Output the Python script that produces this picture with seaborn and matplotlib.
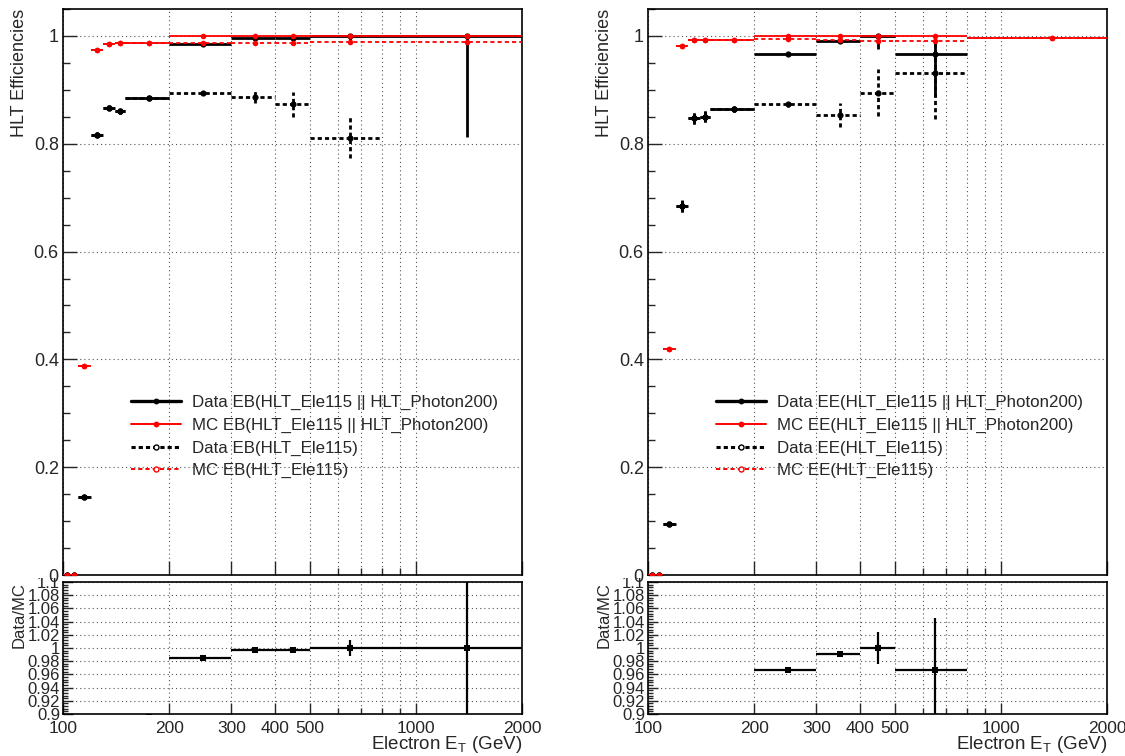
import numpy as np
import matplotlib
matplotlib.use("Agg")
import matplotlib.pyplot as plt
import matplotlib.ticker as mticker
import matplotlib.transforms as mtransforms
from matplotlib.lines import Line2D
import seaborn as sns

# ---------------------------------------------------------------------------
# Binning in electron E_T (GeV)
# ---------------------------------------------------------------------------
bin_edges = np.array([100, 105, 110, 120, 130, 140, 150, 200, 300, 400, 500, 800, 2000], dtype=float)

# ---------------------------------------------------------------------------
# Barrel (EB) efficiencies
# ---------------------------------------------------------------------------
eb_data_or = [0.0, 0.0, 0.145, 0.817, 0.867, 0.860, 0.884, 0.9845, 0.996, 0.996, 1.0, 1.0]
eb_data_or_lo = [0.0, 0.0, 0.004, 0.005, 0.005, 0.005, 0.003, 0.002, 0.003, 0.004, 0.012, 0.188]
eb_data_or_hi = [0.002, 0.002, 0.004, 0.005, 0.005, 0.005, 0.003, 0.002, 0.002, 0.003, 0.0, 0.0]

eb_mc_or = [0.0, 0.0, 0.387, 0.974, 0.9845, 0.987, 0.9876, 0.9995, 0.9995, 0.9995, 0.9995, 0.9995]
eb_mc_or_err = [0.001, 0.001, 0.003, 0.002, 0.002, 0.002, 0.001, 0.001, 0.001, 0.001, 0.001, 0.001]

eb_data_ele = [0.0, 0.0, 0.145, 0.817, 0.867, 0.860, 0.884, 0.894, 0.887, 0.873, 0.811, np.nan]
eb_data_ele_lo = [0.0, 0.0, 0.004, 0.005, 0.005, 0.005, 0.003, 0.004, 0.011, 0.0235, 0.038, 0.0]
eb_data_ele_hi = [0.002, 0.002, 0.004, 0.005, 0.005, 0.005, 0.003, 0.004, 0.011, 0.0235, 0.038, 0.0]

eb_mc_ele = [0.0, 0.0, 0.387, 0.974, 0.9845, 0.987, 0.9876, 0.9863, 0.987, 0.987, 0.988, 0.988]
eb_mc_ele_err = [0.001, 0.001, 0.003, 0.002, 0.002, 0.002, 0.001, 0.001, 0.003, 0.004, 0.004, 0.003]

# ---------------------------------------------------------------------------
# Endcap (EE) efficiencies
# ---------------------------------------------------------------------------
ee_data_or = [0.0, 0.0, 0.095, 0.684, 0.847, 0.850, 0.864, 0.966, 0.991, 1.0, 0.966, np.nan]
ee_data_or_lo = [0.0, 0.0, 0.004, 0.011, 0.010, 0.010, 0.006, 0.002, 0.005, 0.025, 0.080, 0.0]
ee_data_or_hi = [0.002, 0.002, 0.004, 0.011, 0.010, 0.010, 0.006, 0.002, 0.005, 0.0, 0.034, 0.0]

ee_mc_or = [0.0, 0.0, 0.420, 0.981, 0.992, 0.992, 0.993, 0.999, 1.0, 1.0, 1.0, 0.997]
ee_mc_or_err = [0.001, 0.001, 0.003, 0.002, 0.001, 0.001, 0.001, 0.001, 0.001, 0.001, 0.001, 0.003]

ee_data_ele = [0.0, 0.0, 0.095, 0.684, 0.847, 0.850, 0.864, 0.873, 0.853, 0.895, 0.931, np.nan]
ee_data_ele_lo = [0.0, 0.0, 0.004, 0.011, 0.010, 0.010, 0.006, 0.005, 0.0225, 0.044, 0.085, 0.0]
ee_data_ele_hi = [0.002, 0.002, 0.004, 0.011, 0.010, 0.010, 0.006, 0.005, 0.0225, 0.044, 0.060, 0.0]

ee_mc_ele = [0.0, 0.0, 0.420, 0.981, 0.992, 0.992, 0.993, 0.994, 0.992, 0.991, 0.991, 0.996]
ee_mc_ele_err = [0.001, 0.001, 0.003, 0.002, 0.001, 0.001, 0.001, 0.001, 0.003, 0.004, 0.004, 0.003]

# Axis ticks
x_tick_values = [100, 200, 300, 400, 500, 1000, 2000]
x_minor_values = [600, 700, 800, 900]
eff_tick_values = [0, 0.2, 0.4, 0.6, 0.8, 1.0]
eff_tick_labels = ["0", "0.2", "0.4", "0.6", "0.8", "1"]
ratio_tick_values = [0.9, 0.92, 0.94, 0.96, 0.98, 1.0, 1.02, 1.04, 1.06, 1.08, 1.1]
ratio_tick_labels = ["0.9", "0.92", "0.94", "0.96", "0.98", "1", "1.02", "1.04", "1.06", "1.08", "1.1"]

# ---------------------------------------------------------------------------
# Style
# ---------------------------------------------------------------------------
sns.set_style("ticks")
plt.rcParams["font.family"] = ["Liberation Sans", "DejaVu Sans"]
plt.rcParams["mathtext.fontset"] = "custom"
plt.rcParams["mathtext.rm"] = "Liberation Sans"
plt.rcParams["axes.linewidth"] = 1.2
plt.rcParams["axes.edgecolor"] = "black"
plt.rcParams["lines.scale_dashes"] = False

RED = "#ff0000"
BLACK = "#000000"
DASH = (0, (3.0, 2.2))
GRID_KW = dict(color="#555555", linestyle=(0, (0.8, 2.2)), linewidth=0.8)

centers = 0.5 * (bin_edges[:-1] + bin_edges[1:])
xerr_lo = centers - bin_edges[:-1]
xerr_hi = bin_edges[1:] - centers

W, H = 1125, 756
fig = plt.figure(figsize=(W / 100, H / 100), dpi=100)


def frac_box(x0, y0, x1, y1):
    return [x0 / W, 1 - y1 / H, (x1 - x0) / W, (y1 - y0) / H]


def draw_series(ax, eff, lo, hi, color, lw, dashed, z, msize):
    eff = np.asarray(eff, dtype=float)
    lo = np.asarray(lo, dtype=float)
    hi = np.asarray(hi, dtype=float)
    m = ~np.isnan(eff)
    eb = ax.errorbar(centers[m], eff[m],
                     xerr=[xerr_lo[m], xerr_hi[m]],
                     yerr=[lo[m], hi[m]],
                     fmt="none", ecolor=color, elinewidth=lw, capsize=0,
                     zorder=z)
    if dashed:
        for lc in eb.lines[2]:
            lc.set_linestyle(DASH)
    sns.scatterplot(x=centers[m], y=eff[m], ax=ax, color=color, s=msize,
                    marker="o", linewidth=0, zorder=z + 0.1, legend=False)


def style_x(ax, labels):
    ax.set_xscale("log")
    ax.set_xlim(100, 2000)
    ax.xaxis.set_major_locator(mticker.FixedLocator(x_tick_values))
    ax.xaxis.set_minor_locator(mticker.FixedLocator(x_minor_values))
    if labels:
        ax.xaxis.set_major_formatter(mticker.FixedFormatter([str(v) for v in x_tick_values]))
    else:
        ax.xaxis.set_major_formatter(mticker.NullFormatter())
    ax.xaxis.set_minor_formatter(mticker.NullFormatter())
    ax.grid(True, axis="x", which="both", **GRID_KW)


def draw_panel(x0, x1, region, d_or, d_or_lo, d_or_hi, m_or, m_or_err,
               d_ele, d_ele_lo, d_ele_hi, m_ele, m_ele_err):
    ax_r = fig.add_axes(frac_box(x0, 582, x1, 714))
    ax = fig.add_axes(frac_box(x0, 9, x1, 575))

    # --- efficiency panel ---
    draw_series(ax, d_or, d_or_lo, d_or_hi, BLACK, 2.0, False, 3, 20)
    draw_series(ax, m_or, m_or_err, m_or_err, RED, 1.3, False, 4, 16)
    draw_series(ax, d_ele, d_ele_lo, d_ele_hi, BLACK, 2.0, True, 5, 20)
    draw_series(ax, m_ele, m_ele_err, m_ele_err, RED, 1.3, True, 6, 16)

    style_x(ax, labels=False)
    ax.set_ylim(0, 1.05)
    ax.yaxis.set_major_locator(mticker.FixedLocator(eff_tick_values))
    ax.yaxis.set_major_formatter(mticker.FixedFormatter(eff_tick_labels))
    ax.yaxis.set_minor_locator(mticker.MultipleLocator(0.05))
    ax.grid(True, axis="y", which="major", **GRID_KW)
    ax.tick_params(axis="both", which="both", direction="in", top=False, right=False,
                   labelsize=13, width=1.0, pad=3)
    ax.tick_params(axis="both", which="major", length=10)
    ax.tick_params(axis="both", which="minor", length=5)
    ax.set_xlabel("")
    ax.set_ylabel("HLT Efficiencies", fontsize=13, loc="top")
    ax.yaxis.set_label_coords(-0.077, 1.0)
    ax.set_axisbelow(True)
    ax.patch.set_facecolor("white")

    handles = [
        Line2D([], [], color=BLACK, lw=2.4, marker="o", ms=3.2, mfc=BLACK, mec=BLACK),
        Line2D([], [], color=RED, lw=1.4, marker="o", ms=3.2, mfc=RED, mec=RED),
        Line2D([], [], color=BLACK, lw=2.2, ls=DASH, marker="o", ms=3.6, mfc="white", mec=BLACK, mew=1.0),
        Line2D([], [], color=RED, lw=1.4, ls=DASH, marker="o", ms=3.6, mfc="white", mec=RED, mew=1.0),
    ]
    labels = [
        f"Data {region}(HLT_Ele115 || HLT_Photon200)",
        f"MC {region}(HLT_Ele115 || HLT_Photon200)",
        f"Data {region}(HLT_Ele115)",
        f"MC {region}(HLT_Ele115)",
    ]
    ax.legend(handles, labels, loc="upper left", bbox_to_anchor=(0.148, 0.318),
              frameon=False, fontsize=12.2, handlelength=2.94, handletextpad=0.65,
              labelspacing=0.45, borderpad=0, borderaxespad=0)

    # --- ratio panel ---
    d = np.asarray(d_or, dtype=float)
    mc = np.asarray(m_or, dtype=float)
    with np.errstate(divide="ignore", invalid="ignore"):
        ratio = np.where(mc > 0, d / mc, np.nan)
        rerr = np.maximum(np.asarray(d_or_lo), np.asarray(d_or_hi)) / mc
    m = ~np.isnan(ratio)
    ax_r.errorbar(centers[m], ratio[m], xerr=[xerr_lo[m], xerr_hi[m]], yerr=rerr[m],
                  fmt="none", ecolor=BLACK, elinewidth=1.6, capsize=0, zorder=3)
    sns.scatterplot(x=centers[m], y=ratio[m], ax=ax_r, color=BLACK, s=14, marker="s",
                    linewidth=0, zorder=4, legend=False)
    style_x(ax_r, labels=True)
    ax_r.set_ylim(0.9, 1.1)
    ax_r.yaxis.set_major_locator(mticker.FixedLocator(ratio_tick_values))
    ax_r.yaxis.set_major_formatter(mticker.FixedFormatter(ratio_tick_labels))
    ax_r.yaxis.set_minor_locator(mticker.MultipleLocator(0.004))
    ax_r.grid(True, axis="y", which="major", **GRID_KW)
    ax_r.tick_params(axis="both", which="both", direction="in", top=False, right=False,
                     width=1.0)
    ax_r.tick_params(axis="y", which="major", length=7, labelsize=12, pad=2)
    ax_r.tick_params(axis="y", which="minor", length=3.5)
    ax_r.tick_params(axis="x", which="major", length=8, labelsize=12.5, pad=5)
    ax_r.tick_params(axis="x", which="minor", length=4)
    ax_r.set_ylabel("Data/MC", fontsize=12, loc="top")
    ax_r.yaxis.set_label_coords(-0.08, 1.0)
    ax_r.set_xlabel("Electron E$_{\\mathrm{T}}$ (GeV)", fontsize=13.5, loc="right")
    ax_r.xaxis.set_label_coords(1.0, -0.15)
    ax_r.set_axisbelow(True)
    return ax, ax_r


panels = [
    draw_panel(63, 522, "EB", eb_data_or, eb_data_or_lo, eb_data_or_hi, eb_mc_or, eb_mc_or_err,
               eb_data_ele, eb_data_ele_lo, eb_data_ele_hi, eb_mc_ele, eb_mc_ele_err),
    draw_panel(648, 1107, "EE", ee_data_or, ee_data_or_lo, ee_data_or_hi, ee_mc_or, ee_mc_or_err,
               ee_data_ele, ee_data_ele_lo, ee_data_ele_hi, ee_mc_ele, ee_mc_ele_err),
]

# The top ratio label sits under the efficiency pad: only its lower part shows
fig.canvas.draw()
lower_clip = mtransforms.TransformedBbox(
    mtransforms.Bbox([[0.0, 0.0], [1.0, 1 - 578 / H]]), fig.transFigure)
for _, ax_r in panels:
    top_label = ax_r.yaxis.get_major_ticks()[-1].label1
    top_label.set_clip_box(lower_clip)
    top_label.set_clip_on(True)

fig.savefig("out.png", dpi=100, facecolor="white")
